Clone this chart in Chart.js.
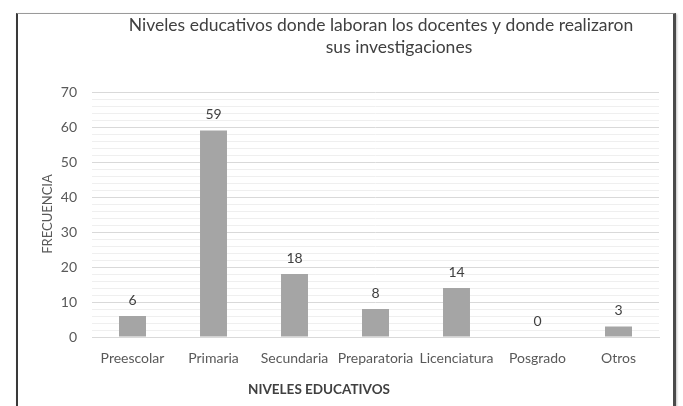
<!DOCTYPE html>
<html>
<head>
<meta charset="utf-8">
<script src="https://cdn.jsdelivr.net/npm/chart.js@4/dist/chart.umd.min.js"></script>
<style>
  html, body { margin: 0; padding: 0; background: #ffffff; }
  #wrap { position: relative; width: 683px; height: 406px; overflow: hidden; }
  #frame { position: absolute; left: 16px; top: 13px; width: 655px; height: 392px;
           border-left: 2px solid #3a3a3a; border-right: 3px solid #4a4a4a;
           border-top: 1px solid #9a9a9a; border-bottom: 1px solid #e0e0e0;
           box-shadow: 1px 1px 2px rgba(0,0,0,0.25); pointer-events: none; }
  canvas { position: absolute; left: 0; top: 0; }
</style>
</head>
<body>
<div id="wrap">
  <canvas id="c" width="683" height="406"></canvas>
  <div id="frame"></div>
</div>
<script>
const categories = ["Preescolar", "Primaria", "Secundaria", "Preparatoria", "Licenciatura", "Posgrado", "Otros"];
const frecuencia = [6, 59, 18, 8, 14, 0, 3];
const yMajorTicks = [0, 10, 20, 30, 40, 50, 60, 70];
const titleLines = ["Niveles educativos donde laboran los docentes y donde realizaron", "sus investigaciones"];
const yTitle = "FRECUENCIA";
const xTitle = "NIVELES EDUCATIVOS";

const FONT = "Lato, 'Open Sans', sans-serif";

const textPlugin = {
  id: 'textPlugin',
  afterDraw(chart) {
    const ctx = chart.ctx;
    ctx.save();
    // title
    ctx.fillStyle = '#404040';
    ctx.font = '17.5px ' + FONT;
    ctx.textAlign = 'center';
    ctx.textBaseline = 'middle';
    ctx.fillText(titleLines[0], 381, 25);
    ctx.fillText(titleLines[1], 399, 47);
    // y title
    ctx.save();
    ctx.translate(48, 214);
    ctx.rotate(-Math.PI / 2);
    ctx.fillStyle = '#595959';
    ctx.font = '13px ' + FONT;
    ctx.fillText(yTitle, 0, 0);
    ctx.restore();
    // x title
    ctx.fillStyle = '#404040';
    ctx.font = 'bold 13.5px ' + FONT;
    ctx.fillText(xTitle, 319, 390);
    // data labels
    const meta = chart.getDatasetMeta(0);
    ctx.fillStyle = '#404040';
    ctx.font = '14px ' + FONT;
    meta.data.forEach((bar, i) => {
      ctx.fillText(String(frecuencia[i]), bar.x, bar.y - 16);
    });
    ctx.restore();
  }
};

new Chart(document.getElementById('c'), {
  type: 'bar',
  data: {
    labels: categories,
    datasets: [{
      data: frecuencia,
      backgroundColor: '#a5a5a5',
      borderWidth: 0,
      barPercentage: 0.333,
      categoryPercentage: 1.0
    }]
  },
  options: {
    responsive: false,
    animation: false,
    layout: { padding: { top: 92, right: 24, bottom: 0, left: 0 } },
    plugins: { legend: { display: false }, tooltip: { enabled: false }, title: { display: false } },
    scales: {
      x: {
        grid: { display: false, drawTicks: false },
        border: { display: true, color: '#d9d9d9', width: 1 },
        ticks: { color: '#595959', font: { family: FONT, size: 14 }, padding: 13, maxRotation: 0, autoSkip: false },
        afterFit(s) { s.height = 69; }
      },
      y: {
        min: 0, max: 70,
        grid: {
          drawTicks: false,
          color: ctx => (ctx.tick && yMajorTicks.includes(ctx.tick.value)) ? '#d9d9d9' : '#efefef',
          lineWidth: 1
        },
        border: { display: false },
        ticks: {
          stepSize: 2,
          autoSkip: false,
          padding: 15,
          color: '#595959',
          font: { family: FONT, size: 14 },
          callback: v => yMajorTicks.includes(v) ? String(v) : ''
        },
        afterFit(s) { s.width = 92; }
      }
    }
  },
  plugins: [textPlugin]
});
</script>
</body>
</html>
